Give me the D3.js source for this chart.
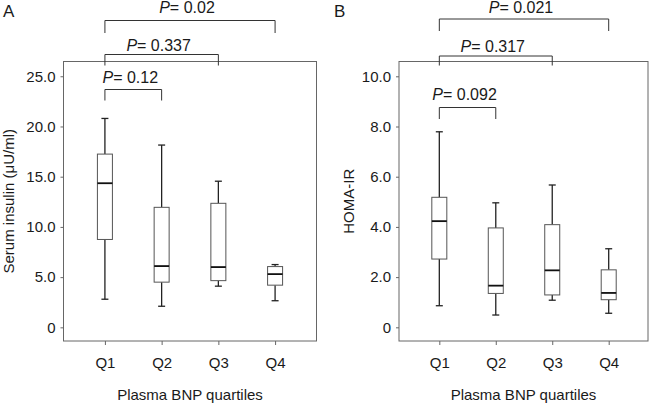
<!DOCTYPE html>
<html>
<head>
<meta charset="utf-8">
<script src="https://cdn.jsdelivr.net/npm/d3@7/dist/d3.min.js"></script>
<style>
  html, body { margin: 0; padding: 0; background: #fff; }
  text { font-family: "Liberation Sans", Arial, sans-serif; fill: #1a1a1a; }
</style>
</head>
<body>
<svg id="chart" width="650" height="406"></svg>
<script>
// ---- data ----
const categories = ["Q1", "Q2", "Q3", "Q4"];

const insulinMin    = [2.8, 2.1, 4.1, 2.65];
const insulinQ1     = [8.75, 4.5, 4.65, 4.2];
const insulinMedian = [14.35, 6.1, 6.0, 5.3];
const insulinQ3     = [17.25, 11.95, 12.35, 6.05];
const insulinMax    = [20.8, 18.15, 14.55, 6.25];

const homaMin    = [0.86, 0.49, 1.08, 0.56];
const homaQ1     = [2.72, 1.35, 1.29, 1.10];
const homaMedian = [4.23, 1.66, 2.27, 1.37];
const homaQ3     = [5.18, 3.96, 4.09, 2.29];
const homaMax    = [7.79, 4.96, 5.67, 3.13];

const yTicksA = [0, 5, 10, 15, 20, 25];
const yTicksB = [0, 2, 4, 6, 8, 10];

const compareTo = ["Q2", "Q3", "Q4"];
const pValuesA = ["0.12", "0.337", "0.02"];
const pValuesB = ["0.092", "0.317", "0.021"];

// ---- layout ----
const svg = d3.select("#chart");

const panels = [
  {
    letter: "A", letterX: 3, ytitle: "Serum insulin (\u03bcU/ml)",
    x0: 63.5, x1: 316.5, xdom: [0.27, 4.73],
    ydom: [-1.36, 26.47], ticks: yTicksA,
    fmt: v => v === 0 ? "0" : d3.format(".1f")(v),
    min: insulinMin, q1: insulinQ1, med: insulinMedian, q3: insulinQ3, max: insulinMax,
    p: pValuesA,
    br: [{top: 89.5, bot: 100.5, base: 83}, {top: 54.5, bot: 65.5, base: 50.5}, {top: 20.5, bot: 33, base: 12.5}],
    ytitleX: 14
  },
  {
    letter: "B", letterX: 334, ytitle: "HOMA-IR",
    x0: 399, x1: 648, xdom: [0.286, 4.696],
    ydom: [-0.545, 10.59], ticks: yTicksB,
    fmt: v => v === 0 ? "0" : d3.format(".1f")(v),
    min: homaMin, q1: homaQ1, med: homaMedian, q3: homaQ3, max: homaMax,
    p: pValuesB,
    br: [{top: 107.5, bot: 119, base: 100}, {top: 56, bot: 65.5, base: 51.5}, {top: 19, bot: 31, base: 12.5}],
    ytitleX: 354
  }
];

const yTop = 61.5, yBot = 341;

panels.forEach(P => {
  const g = svg.append("g");
  const x = d3.scaleLinear().domain(P.xdom).range([P.x0, P.x1]);
  const y = d3.scaleLinear().domain(P.ydom).range([yBot, yTop]);
  const xi = i => x(i + 1);

  // frame
  g.append("rect")
    .attr("x", P.x0).attr("y", yTop)
    .attr("width", P.x1 - P.x0).attr("height", yBot - yTop)
    .attr("fill", "none").attr("stroke", "#666").attr("stroke-width", 1);

  // y axis
  const ya = g.append("g").attr("transform", `translate(${P.x0},0)`)
    .call(d3.axisLeft(y).tickValues(P.ticks).tickFormat(P.fmt).tickSize(3).tickPadding(5));
  ya.select(".domain").remove();
  ya.selectAll(".tick line").attr("stroke", "#666");
  ya.selectAll(".tick text").attr("font-size", 15).attr("font-family", "Liberation Sans, Arial, sans-serif").attr("fill", "#1a1a1a");

  // x axis
  const xa = g.append("g").attr("transform", `translate(0,${yBot})`)
    .call(d3.axisBottom(x).tickValues([1, 2, 3, 4]).tickFormat((d, i) => categories[i]).tickSize(4).tickPadding(12));
  xa.select(".domain").remove();
  xa.selectAll(".tick line").attr("stroke", "#666");
  xa.selectAll(".tick text").attr("font-size", 15).attr("font-family", "Liberation Sans, Arial, sans-serif").attr("fill", "#1a1a1a");

  // titles
  g.append("text").attr("x", (P.x0 + P.x1) / 2).attr("y", 400)
    .attr("text-anchor", "middle").attr("font-size", 15).text("Plasma BNP quartiles");
  g.append("text")
    .attr("transform", `translate(${P.ytitleX},${(yTop + yBot) / 2}) rotate(-90)`)
    .attr("text-anchor", "middle").attr("font-size", 15).text(P.ytitle);
  g.append("text").attr("x", P.letterX).attr("y", 17).attr("font-size", 17).text(P.letter);

  // boxes
  const bw = 15, cw = 7;
  categories.forEach((c, i) => {
    const cx = xi(i);
    const bg = g.append("g");
    // whiskers
    bg.append("line").attr("x1", cx).attr("x2", cx).attr("y1", y(P.max[i])).attr("y2", y(P.q3[i]))
      .attr("stroke", "#222").attr("stroke-width", 1.3);
    bg.append("line").attr("x1", cx).attr("x2", cx).attr("y1", y(P.q1[i])).attr("y2", y(P.min[i]))
      .attr("stroke", "#222").attr("stroke-width", 1.3);
    bg.append("line").attr("x1", cx - cw / 2).attr("x2", cx + cw / 2).attr("y1", y(P.max[i])).attr("y2", y(P.max[i]))
      .attr("stroke", "#222").attr("stroke-width", 1.3);
    bg.append("line").attr("x1", cx - cw / 2).attr("x2", cx + cw / 2).attr("y1", y(P.min[i])).attr("y2", y(P.min[i]))
      .attr("stroke", "#222").attr("stroke-width", 1.3);
    // box
    bg.append("rect").attr("x", cx - bw / 2).attr("y", y(P.q3[i]))
      .attr("width", bw).attr("height", y(P.q1[i]) - y(P.q3[i]))
      .attr("fill", "#fff").attr("stroke", "#555").attr("stroke-width", 1);
    // median
    bg.append("line").attr("x1", cx - bw / 2).attr("x2", cx + bw / 2).attr("y1", y(P.med[i])).attr("y2", y(P.med[i]))
      .attr("stroke", "#111").attr("stroke-width", 1.8);
  });

  // significance brackets
  compareTo.forEach((c, k) => {
    const j = categories.indexOf(c);
    const xa1 = xi(0), xb = xi(j), b = P.br[k];
    g.append("path")
      .attr("d", `M${xa1},${b.bot}V${b.top}H${xb}V${b.bot}`)
      .attr("fill", "none").attr("stroke", "#333").attr("stroke-width", 1);
    const t = g.append("text").attr("x", (xa1 + xb) / 2 - 3).attr("y", b.base)
      .attr("text-anchor", "middle").attr("font-size", 16);
    t.append("tspan").attr("font-style", "italic").text("P");
    t.append("tspan").text("= " + P.p[k]);
  });
});
</script>
</body>
</html>
